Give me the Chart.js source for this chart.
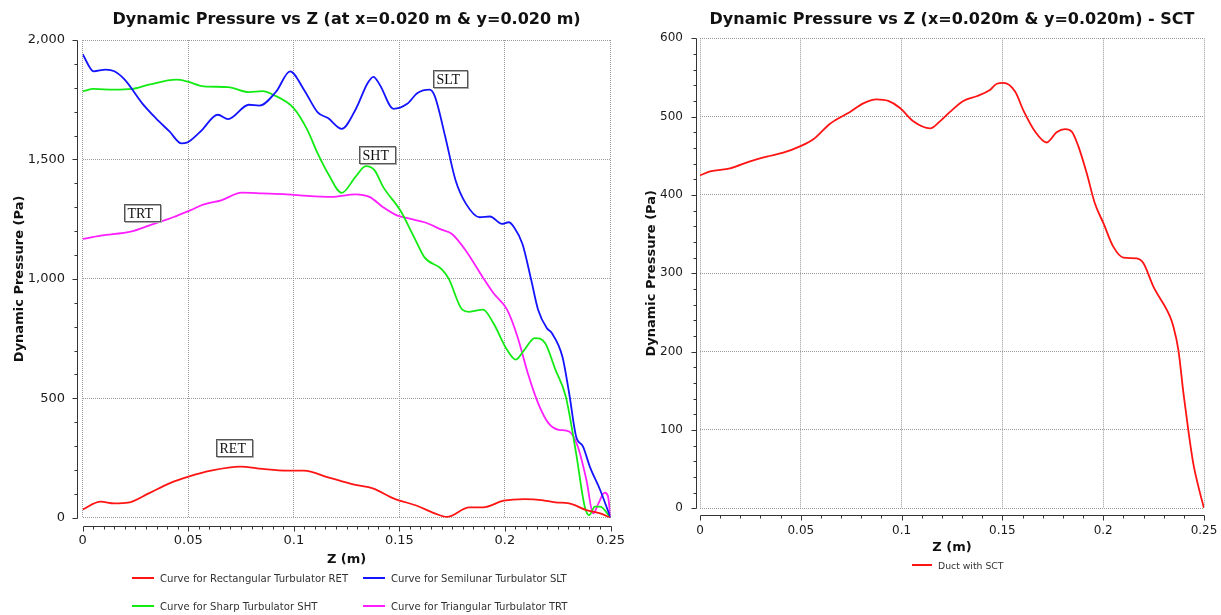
<!DOCTYPE html>
<html>
<head>
<meta charset="utf-8">
<script src="https://cdn.jsdelivr.net/npm/chart.js@4.4.1/dist/chart.umd.min.js"></script>
<style>
  body { margin: 0; background: #fff; }
  #wrap { position: relative; width: 1221px; height: 615px; overflow: hidden; background: #fff; }
  #leftBox { position: absolute; left: 0; top: 0; width: 660px; height: 615px; }
  #rightBox { position: absolute; left: 620px; top: 0; width: 640px; height: 615px; }
  .leg { position: absolute; font-family: "DejaVu Sans", sans-serif; color: #333; white-space: nowrap; }
  .leg .item { position: absolute; display: flex; align-items: center; height: 14px; }
  .leg .sw { display: inline-block; height: 2px; margin-right: 6px; }
</style>
</head>
<body>
<div id="wrap">
  <div id="leftBox"><canvas id="leftChart" width="660" height="615"></canvas></div>
  <div id="rightBox"><canvas id="rightChart" width="640" height="615"></canvas></div>
  <div id="legLeft" class="leg" style="font-size:10.1px"></div>
  <div id="legRight" class="leg" style="font-size:9.3px"></div>
</div>
<script>
// left chart: dynamic pressure (Pa) along Z (m) for four turbulators
const zRET = [0, 0.0085, 0.015, 0.0215, 0.0313, 0.0411, 0.0501, 0.0607, 0.0746, 0.0852, 0.0966, 0.1048, 0.1162, 0.1292, 0.1374, 0.1472, 0.1586, 0.1668, 0.1725, 0.1831, 0.1896, 0.1994, 0.2092, 0.2174, 0.2239, 0.2304, 0.2386, 0.2451, 0.25];
const pRET = [35, 67, 60, 63, 102, 144, 172, 197, 214, 204, 197, 197, 169, 137, 123, 81, 49, 18, 3, 43, 43, 71, 78, 74, 64, 60, 32, 18, 0];

const zSLT = [0, 0.0052, 0.0109, 0.015, 0.0199, 0.0281, 0.0346, 0.0411, 0.0468, 0.0493, 0.0558, 0.064, 0.0689, 0.0787, 0.0836, 0.0917, 0.0982, 0.1048, 0.1113, 0.1162, 0.1227, 0.1292, 0.135, 0.1377, 0.1407, 0.1472, 0.1537, 0.1586, 0.1643, 0.1668, 0.1717, 0.1766, 0.1815, 0.188, 0.1929, 0.1986, 0.2018, 0.2043, 0.2083, 0.2124, 0.2157, 0.2198, 0.2222, 0.2272, 0.2304, 0.2337, 0.237, 0.2402, 0.2451, 0.25];
const pSLT = [1940, 1869, 1876, 1869, 1834, 1736, 1673, 1617, 1567, 1570, 1617, 1687, 1669, 1729, 1725, 1785, 1869, 1792, 1697, 1673, 1628, 1708, 1820, 1846, 1813, 1712, 1733, 1778, 1792, 1764, 1596, 1413, 1315, 1258, 1261, 1230, 1237, 1216, 1146, 997, 871, 794, 773, 675, 522, 340, 298, 214, 116, 0];

const zSHT = [0, 0.0052, 0.015, 0.0232, 0.0313, 0.0444, 0.0493, 0.0574, 0.0689, 0.0787, 0.0852, 0.0901, 0.0999, 0.1064, 0.1113, 0.1162, 0.1227, 0.1292, 0.1341, 0.1382, 0.1423, 0.1504, 0.157, 0.1619, 0.17, 0.1733, 0.1798, 0.1831, 0.1896, 0.1945, 0.201, 0.2051, 0.2092, 0.2141, 0.219, 0.2239, 0.2288, 0.2337, 0.2378, 0.2399, 0.2426, 0.2451, 0.25];
const pSHT = [1785, 1795, 1792, 1795, 1813, 1834, 1827, 1806, 1803, 1782, 1786, 1771, 1715, 1624, 1525, 1441, 1360, 1427, 1472, 1455, 1385, 1287, 1174, 1090, 1041, 1002, 871, 862, 871, 815, 703, 662, 703, 752, 731, 620, 508, 270, 46, 11, 46, 46, 0];

const zTRT = [0, 0.0085, 0.0232, 0.0313, 0.0428, 0.0509, 0.0574, 0.0656, 0.0754, 0.0852, 0.0966, 0.1064, 0.1178, 0.1292, 0.1358, 0.1423, 0.1488, 0.1553, 0.1619, 0.17, 0.1749, 0.1815, 0.1896, 0.1945, 0.201, 0.2059, 0.2108, 0.2157, 0.2206, 0.2255, 0.2304, 0.2345, 0.2386, 0.2418, 0.2443, 0.2472, 0.2488, 0.25];
const pTRT = [1167, 1181, 1199, 1223, 1258, 1287, 1312, 1329, 1361, 1358, 1354, 1347, 1343, 1354, 1343, 1300, 1266, 1251, 1237, 1206, 1188, 1118, 1005, 941, 871, 759, 606, 480, 396, 368, 361, 298, 158, 18, 60, 105, 90, 0];

const leftNames = ["Curve for Rectangular Turbulator RET", "Curve for Semilunar Turbulator SLT",
                   "Curve for Sharp Turbulator SHT", "Curve for Triangular Turbulator TRT"];

// boxed tags inside the left plot (text, z, pressure)
const tagText = ["SLT", "SHT", "TRT", "RET"];
const tagZ = [0.1742, 0.1392, 0.028, 0.0716];
const tagP = [1837, 1521, 1277, 293];

// right chart: duct with SCT
const zSCT = [0, 0.005, 0.0149, 0.0248, 0.0331, 0.0413, 0.0496, 0.0562, 0.0645, 0.0744, 0.081, 0.0876, 0.0934, 0.0992, 0.1058, 0.1141, 0.119, 0.124, 0.1306, 0.1372, 0.1438, 0.1472, 0.1505, 0.1563, 0.1604, 0.1662, 0.172, 0.1769, 0.1811, 0.1844, 0.1877, 0.1918, 0.1959, 0.2001, 0.205, 0.21, 0.2166, 0.2199, 0.2249, 0.2331, 0.2348, 0.2373, 0.2398, 0.2422, 0.2447, 0.2472, 0.25];
const pSCT = [425, 430, 434, 443, 449, 454, 462, 471, 491, 506, 517, 522, 520, 511, 494, 485, 494, 506, 520, 526, 534, 542, 543, 532, 508, 481, 467, 480, 484, 481, 462, 428, 389, 364, 334, 320, 319, 313, 283, 245, 232, 202, 147, 100, 57, 28, 0];
const rightNames = ["Duct with SCT"];

const pts = (zs, ps) => zs.map((z, i) => ({ x: z, y: ps[i] }));
const fmtZ = (v) => String(+v.toFixed(2));

Chart.defaults.font.family = "DejaVu Sans";
Chart.defaults.color = "#1a1a1a";

// axis lines drawn a few px outside the plot, with major and minor ticks
const offsetAxes = {
  id: "offsetAxes",
  afterDraw(chart, args, o) {
    const { ctx, chartArea: a, scales: { x, y } } = chart;
    const ax = Math.round(a.left - o.yGap) + 0.5;
    const ay = Math.round(a.bottom + o.xGap) + 0.5;
    ctx.save();
    ctx.strokeStyle = "#333";
    ctx.lineWidth = 1;
    ctx.beginPath();
    ctx.moveTo(ax, Math.round(y.getPixelForValue(y.max)) + 0.5);
    ctx.lineTo(ax, Math.round(y.getPixelForValue(y.min)) + 0.5);
    let n = Math.round((y.max - y.min) / o.yMinor);
    for (let i = 0; i <= n; i++) {
      const py = Math.round(y.getPixelForValue(y.min + i * o.yMinor)) + 0.5;
      const len = i % o.yEvery === 0 ? 5 : 3;
      ctx.moveTo(ax - len, py);
      ctx.lineTo(ax, py);
    }
    ctx.moveTo(Math.round(x.getPixelForValue(x.min)) + 0.5, ay);
    ctx.lineTo(Math.round(x.getPixelForValue(x.max)) + 0.5, ay);
    n = Math.round((x.max - x.min) / o.xMinor);
    for (let i = 0; i <= n; i++) {
      const px = Math.round(x.getPixelForValue(x.min + i * o.xMinor)) + 0.5;
      const len = i % o.xEvery === 0 ? 5 : 3;
      ctx.moveTo(px, ay);
      ctx.lineTo(px, ay + len);
    }
    ctx.stroke();
    ctx.restore();
  }
};

const boxedTags = {
  id: "boxedTags",
  afterDatasetsDraw(chart, args, o) {
    if (!o.text) return;
    const { ctx, scales: { x, y } } = chart;
    ctx.save();
    ctx.font = "14px 'Liberation Serif'";
    ctx.textBaseline = "middle";
    o.text.forEach((t, i) => {
      const cx = x.getPixelForValue(o.z[i]);
      const cy = y.getPixelForValue(o.p[i]);
      const w = Math.round(ctx.measureText(t).width + 10);
      const h = 17;
      const l = Math.round(cx - w / 2) + 0.5;
      const tp = Math.round(cy - h / 2) + 0.5;
      ctx.fillStyle = "#fff";
      ctx.fillRect(l, tp, w, h);
      ctx.strokeStyle = "#aaa";
      ctx.strokeRect(l + 1, tp + 1, w, h);
      ctx.strokeStyle = "#555";
      ctx.strokeRect(l, tp, w, h);
      ctx.fillStyle = "#111";
      ctx.fillText(t, l + 3, tp + h / 2 + 1);
    });
    ctx.restore();
  }
};

function makeChart(id, cfg) {
  return new Chart(document.getElementById(id), {
    type: "line",
    data: { datasets: cfg.datasets },
    options: {
      responsive: false,
      animation: false,
      layout: { padding: cfg.padding },
      elements: { point: { radius: 0 }, line: { borderWidth: 1.8, cubicInterpolationMode: "monotone" } },
      plugins: {
        legend: { display: false },
        tooltip: { enabled: false },
        title: {
          display: true, text: cfg.title, fullSize: false, color: "#111",
          font: { size: 16, weight: "bold" }, padding: cfg.titlePad
        },
        offsetAxes: cfg.axes,
        boxedTags: cfg.tags || {}
      },
      scales: {
        x: {
          type: "linear", min: 0, max: 0.25,
          afterFit: (s) => { s.height = cfg.xHeight; },
          ticks: { stepSize: 0.05, callback: fmtZ, padding: cfg.xPad, font: { size: cfg.tickSize }, maxRotation: 0 },
          grid: { color: "#9a9a9a", drawTicks: false },
          border: { display: false, dash: [1, 1] },
          title: { display: true, text: "Z (m)", color: "#111", font: { size: 13, weight: "bold" }, padding: 0 }
        },
        y: {
          min: 0, max: cfg.yMax,
          afterFit: (s) => { s.width = cfg.yWidth; },
          ticks: { stepSize: cfg.yStep, padding: cfg.yPad, font: { size: cfg.tickSize },
                   callback: (v) => v.toLocaleString("en-US") },
          grid: { color: "#9a9a9a", drawTicks: false },
          border: { display: false, dash: [1, 1] },
          title: { display: true, text: "Dynamic Pressure (Pa)", color: "#111",
                   font: { size: 13, weight: "bold" }, padding: { top: cfg.yTitleTop, bottom: 0 } }
        }
      }
    },
    plugins: [offsetAxes, boxedTags]
  });
}

const leftColors = ["rgb(255,20,20)", "rgb(20,20,255)", "rgb(20,235,20)", "rgb(255,30,255)"];
const leftSets = [[zRET, pRET], [zSLT, pSLT], [zSHT, pSHT], [zTRT, pTRT]].map((s, i) => ({
  label: leftNames[i], data: pts(s[0], s[1]), borderColor: leftColors[i], fill: false
}));

const leftChart = makeChart("leftChart", {
  datasets: leftSets,
  title: "Dynamic Pressure vs Z (at x=0.020 m & y=0.020 m)",
  titlePad: { top: 10.4, bottom: 10.4 },
  padding: { left: 0, right: 49.5, top: 0, bottom: 47.6 },
  xHeight: 49.7, xPad: 15.6, yWidth: 82.7, yPad: 17.7, yTitleTop: 12,
  yMax: 2000, yStep: 500, tickSize: 13,
  axes: { yGap: 6, xGap: 8, yMinor: 100, yEvery: 5, xMinor: 0.005, xEvery: 10 },
  tags: { text: tagText, z: tagZ, p: tagP }
});

const rightChart = makeChart("rightChart", {
  datasets: [{ label: rightNames[0], data: pts(zSCT, pSCT), borderColor: "rgb(255,20,20)", fill: false }],
  title: "Dynamic Pressure vs Z (x=0.020m & y=0.020m) - SCT",
  titlePad: { top: 10, bottom: 9.1 },
  padding: { left: 0, right: 56, top: 0, bottom: 59.6 },
  xHeight: 47.1, xPad: 15.4, yWidth: 80, yPad: 17, yTitleTop: 23.6,
  yMax: 600, yStep: 100, tickSize: 12,
  axes: { yGap: 4, xGap: 7, yMinor: 20, yEvery: 5, xMinor: 0.01, xEvery: 5 }
});

// html legends, laid out in columns as in the source figure
function buildLegend(el, chart, left0, top0, colStep, rowStep, swW) {
  chart.data.datasets.forEach((ds, i) => {
    const item = document.createElement("div");
    item.className = "item";
    item.style.left = (left0 + (i % 2) * colStep) + "px";
    item.style.top = (top0 + Math.floor(i / 2) * rowStep - 7) + "px";
    const sw = document.createElement("span");
    sw.className = "sw";
    sw.style.width = swW + "px";
    sw.style.background = ds.borderColor;
    item.appendChild(sw);
    item.appendChild(document.createTextNode(ds.label));
    el.appendChild(item);
  });
}
buildLegend(document.getElementById("legLeft"), leftChart, 132, 578, 231, 28, 22);
buildLegend(document.getElementById("legRight"), rightChart, 912, 565, 0, 0, 20);
</script>
</body>
</html>
